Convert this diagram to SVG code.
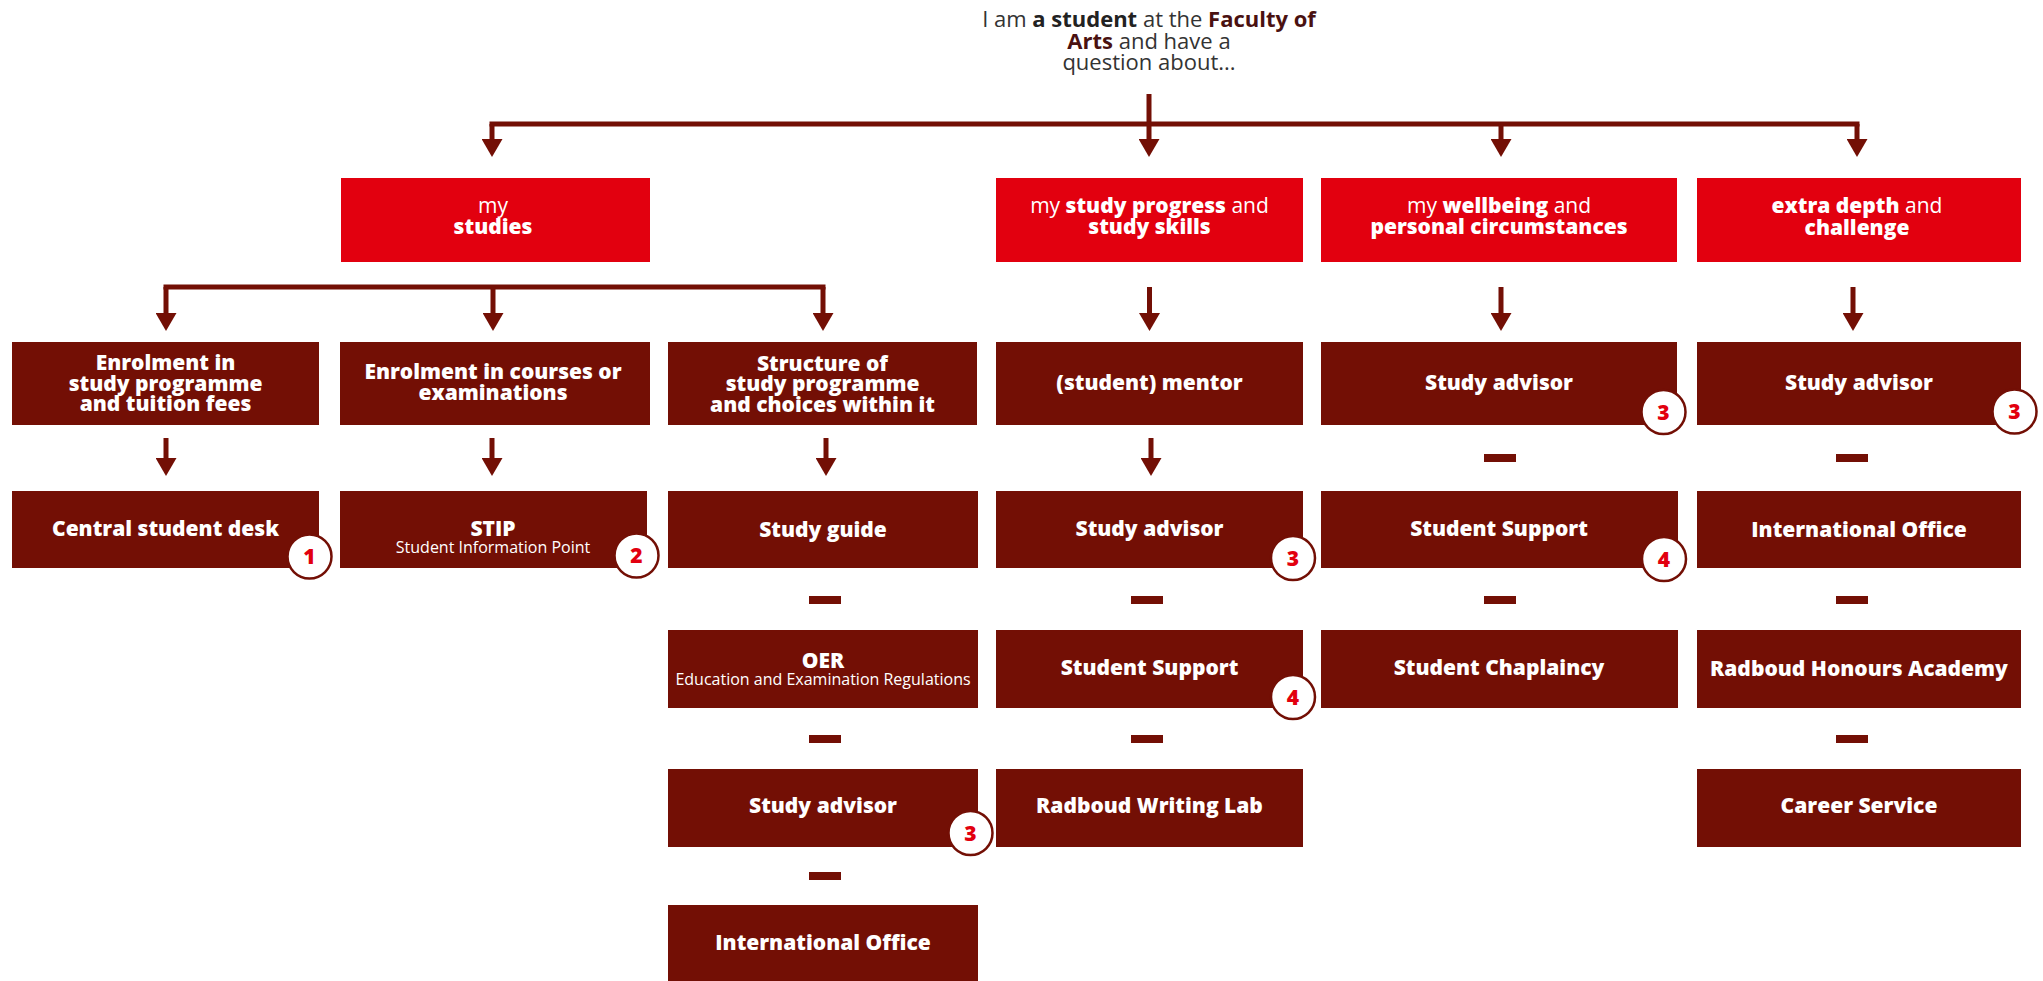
<svg xmlns="http://www.w3.org/2000/svg" width="2043" height="981" viewBox="0 0 2043 981">
<defs>
<marker id="ah" viewBox="0 0 18 21" refX="0" refY="10.5" markerWidth="18" markerHeight="21" markerUnits="userSpaceOnUse" orient="auto">
<path d="M0,0 L18,10.5 L0,21 Z" fill="#730f05"/>
</marker>
</defs>
<style>
.box{fill:#730f05}
.red{fill:#e2000f}
.t{font-family:"Open Sans","Liberation Sans",sans-serif;fill:#fff;font-weight:800;font-size:21px;text-anchor:middle}
.n{font-weight:400}
.sub{font-weight:400;font-size:16px}
.c line{stroke:#730f05;stroke-width:5}
.dash{fill:#730f05}
.badge circle{fill:#fff;stroke:#730f05;stroke-width:2.5}
.badge text{font-family:"Open Sans","Liberation Sans",sans-serif;fill:#e2000f;font-weight:800;font-size:21px;text-anchor:middle}
.top{font-family:"Open Sans","Liberation Sans",sans-serif;font-size:22px;fill:#333;text-anchor:middle}
</style>
<rect width="2043" height="981" fill="#fff"/>

<g id="intro">
<text class="top" x="1149" y="27">I am <tspan font-weight="700" fill="#222">a student</tspan> at the <tspan font-weight="700" fill="#4a1111">Faculty of</tspan></text>
<text class="top" x="1149" y="48.5"><tspan font-weight="700" fill="#4a1111">Arts</tspan> and have a</text>
<text class="top" x="1149" y="70">question about...</text>
</g>

<g id="connectors" class="c">
<line x1="1149" y1="94" x2="1149" y2="139" marker-end="url(#ah)"/>
<line x1="489.5" y1="124" x2="1859.5" y2="124"/>
<line x1="492" y1="124" x2="492" y2="139" marker-end="url(#ah)"/>
<line x1="1501" y1="124" x2="1501" y2="139" marker-end="url(#ah)"/>
<line x1="1857" y1="124" x2="1857" y2="139" marker-end="url(#ah)"/>
<line x1="163.5" y1="287" x2="825.5" y2="287"/>
<line x1="166" y1="287" x2="166" y2="313" marker-end="url(#ah)"/>
<line x1="493" y1="287" x2="493" y2="313" marker-end="url(#ah)"/>
<line x1="823" y1="287" x2="823" y2="313" marker-end="url(#ah)"/>
<line x1="1149.5" y1="287" x2="1149.5" y2="313" marker-end="url(#ah)"/>
<line x1="1501" y1="287" x2="1501" y2="313" marker-end="url(#ah)"/>
<line x1="1853" y1="287" x2="1853" y2="313" marker-end="url(#ah)"/>
<line x1="166" y1="438" x2="166" y2="458" marker-end="url(#ah)"/>
<line x1="492" y1="438" x2="492" y2="458" marker-end="url(#ah)"/>
<line x1="826" y1="438" x2="826" y2="458" marker-end="url(#ah)"/>
<line x1="1151" y1="438" x2="1151" y2="458" marker-end="url(#ah)"/>
<rect class="dash" x="1484" y="454" width="32" height="8"/>
<rect class="dash" x="1836" y="454" width="32" height="8"/>
<rect class="dash" x="809" y="596" width="32" height="8"/>
<rect class="dash" x="1131" y="596" width="32" height="8"/>
<rect class="dash" x="1484" y="596" width="32" height="8"/>
<rect class="dash" x="1836" y="596" width="32" height="8"/>
<rect class="dash" x="809" y="735" width="32" height="8"/>
<rect class="dash" x="1131" y="735" width="32" height="8"/>
<rect class="dash" x="1836" y="735" width="32" height="8"/>
<rect class="dash" x="809" y="872" width="32" height="8"/>
</g>

<g id="n-studies"><rect class="red" x="341" y="178" width="309" height="84"/>
<text class="t" x="493" y="213"><tspan class="n">my</tspan></text>
<text class="t" x="493" y="234">studies</text></g>
<g id="n-progress"><rect class="red" x="996" y="178" width="307" height="84"/>
<text class="t" x="1149.5" y="213"><tspan class="n">my </tspan>study progress<tspan class="n"> and</tspan></text>
<text class="t" x="1149.5" y="234">study skills</text></g>
<g id="n-wellbeing"><rect class="red" x="1321" y="178" width="356" height="84"/>
<text class="t" x="1499" y="213"><tspan class="n">my </tspan>wellbeing<tspan class="n"> and</tspan></text>
<text class="t" x="1499" y="234">personal circumstances</text></g>
<g id="n-extra"><rect class="red" x="1697" y="178" width="324" height="84"/>
<text class="t" x="1857" y="213">extra depth<tspan class="n"> and</tspan></text>
<text class="t" x="1857" y="235">challenge</text></g>

<g id="n-enrol"><rect class="box" x="12" y="342" width="307" height="83"/>
<text class="t" x="165.5" y="370">Enrolment in</text>
<text class="t" x="165.5" y="390.5">study programme</text>
<text class="t" x="165.5" y="411">and tuition fees</text></g>
<g id="n-courses"><rect class="box" x="340" y="342" width="310" height="83"/>
<text class="t" x="493" y="379">Enrolment in courses or</text>
<text class="t" x="493" y="399.5">examinations</text></g>
<g id="n-structure"><rect class="box" x="668" y="342" width="309" height="83"/>
<text class="t" x="822.5" y="370.5">Structure of</text>
<text class="t" x="822.5" y="391">study programme</text>
<text class="t" x="822.5" y="411.5">and choices within it</text></g>
<g id="n-mentor"><rect class="box" x="996" y="342" width="307" height="83"/>
<text class="t" x="1149.5" y="390">(student) mentor</text></g>
<g id="n-advisor-wb"><rect class="box" x="1321" y="342" width="356" height="83"/>
<text class="t" x="1499" y="390">Study advisor</text></g>
<g id="n-advisor-ex"><rect class="box" x="1697" y="342" width="324" height="83"/>
<text class="t" x="1859" y="390">Study advisor</text></g>

<g id="n-desk"><rect class="box" x="12" y="491" width="307" height="77"/>
<text class="t" x="165.5" y="536">Central student desk</text></g>
<g id="n-stip"><rect class="box" x="340" y="491" width="307" height="77"/>
<text class="t" x="493" y="535.5">STIP</text>
<text class="t sub" x="493" y="552.5">Student Information Point</text></g>
<g id="n-guide"><rect class="box" x="668" y="491" width="310" height="77"/>
<text class="t" x="823" y="536.5">Study guide</text></g>
<g id="n-advisor-pr"><rect class="box" x="996" y="491" width="307" height="77"/>
<text class="t" x="1149.5" y="536">Study advisor</text></g>
<g id="n-support-wb"><rect class="box" x="1321" y="491" width="357" height="77"/>
<text class="t" x="1499" y="536">Student Support</text></g>
<g id="n-intl-ex"><rect class="box" x="1697" y="491" width="324" height="77"/>
<text class="t" x="1859" y="537">International Office</text></g>

<g id="n-oer"><rect class="box" x="668" y="630" width="310" height="78"/>
<text class="t" x="823" y="668">OER</text>
<text class="t sub" x="823" y="685">Education and Examination Regulations</text></g>
<g id="n-support-pr"><rect class="box" x="996" y="630" width="307" height="78"/>
<text class="t" x="1149.5" y="674.5">Student Support</text></g>
<g id="n-chaplaincy"><rect class="box" x="1321" y="630" width="357" height="78"/>
<text class="t" x="1499" y="675">Student Chaplaincy</text></g>
<g id="n-honours"><rect class="box" x="1697" y="630" width="324" height="78"/>
<text class="t" x="1859" y="675.5">Radboud Honours Academy</text></g>

<g id="n-advisor-st"><rect class="box" x="668" y="769" width="310" height="78"/>
<text class="t" x="823" y="813">Study advisor</text></g>
<g id="n-writing"><rect class="box" x="996" y="769" width="307" height="78"/>
<text class="t" x="1149.5" y="813">Radboud Writing Lab</text></g>
<g id="n-career"><rect class="box" x="1697" y="769" width="324" height="78"/>
<text class="t" x="1859" y="813">Career Service</text></g>

<g id="n-intl-st"><rect class="box" x="668" y="905" width="310" height="78"/>
<text class="t" x="823" y="950">International Office</text></g>

<g id="badges">
<g class="badge"><circle cx="309.5" cy="556.5" r="22"/><text x="309.5" y="564">1</text></g>
<g class="badge"><circle cx="636.5" cy="555.5" r="22"/><text x="636.5" y="563">2</text></g>
<g class="badge"><circle cx="1293" cy="558" r="22"/><text x="1293" y="565.5">3</text></g>
<g class="badge"><circle cx="1293" cy="697" r="22"/><text x="1293" y="704.5">4</text></g>
<g class="badge"><circle cx="970.5" cy="833" r="22"/><text x="970.5" y="840.5">3</text></g>
<g class="badge"><circle cx="1663.5" cy="412" r="22"/><text x="1663.5" y="419.5">3</text></g>
<g class="badge"><circle cx="2014.5" cy="411.5" r="22"/><text x="2014.5" y="419">3</text></g>
<g class="badge"><circle cx="1664" cy="559" r="22"/><text x="1664" y="566.5">4</text></g>
</g>
</svg>
